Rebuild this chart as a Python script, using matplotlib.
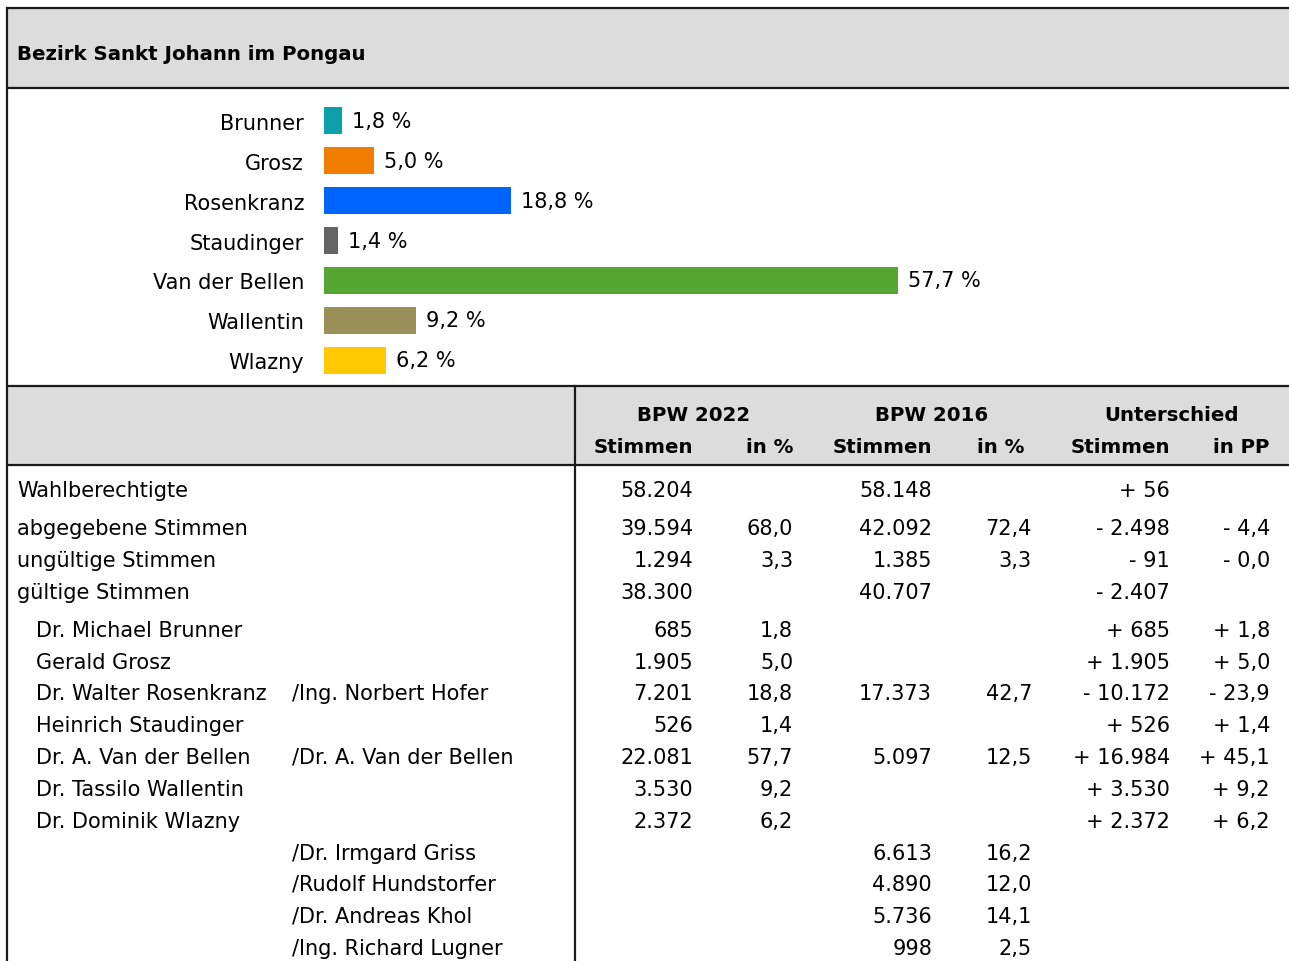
import matplotlib
matplotlib.use("Agg")
import matplotlib.pyplot as plt

plt.rcParams['font.family'] = ['DejaVu Sans']

W, H = 1289, 962

# bar chart data
bar_names = ["Brunner", "Grosz", "Rosenkranz", "Staudinger", "Van der Bellen", "Wallentin", "Wlazny"]
bar_values = [1.8, 5.0, 18.8, 1.4, 57.7, 9.2, 6.2]
bar_colors = ["#0f9fa8", "#f07d00", "#0064ff", "#646464", "#55a630", "#99905a", "#ffc800"]

# table data
row_labels = ["Wahlberechtigte", "abgegebene Stimmen", "ungültige Stimmen", "gültige Stimmen",
              "Dr. Michael Brunner", "Gerald Grosz", "Dr. Walter Rosenkranz", "Heinrich Staudinger",
              "Dr. A. Van der Bellen", "Dr. Tassilo Wallentin", "Dr. Dominik Wlazny",
              "", "", "", ""]
row_labels_2016 = ["", "", "", "", "", "", "/Ing. Norbert Hofer", "", "/Dr. A. Van der Bellen", "", "",
                   "/Dr. Irmgard Griss", "/Rudolf Hundstorfer", "/Dr. Andreas Khol", "/Ing. Richard Lugner"]
st_2022 = ["58.204", "39.594", "1.294", "38.300", "685", "1.905", "7.201", "526", "22.081", "3.530", "2.372",
           "", "", "", ""]
pct_2022 = ["", "68,0", "3,3", "", "1,8", "5,0", "18,8", "1,4", "57,7", "9,2", "6,2", "", "", "", ""]
st_2016 = ["58.148", "42.092", "1.385", "40.707", "", "", "17.373", "", "5.097", "", "",
           "6.613", "4.890", "5.736", "998"]
pct_2016 = ["", "72,4", "3,3", "", "", "", "42,7", "", "12,5", "", "", "16,2", "12,0", "14,1", "2,5"]
diff_st = ["+ 56", "- 2.498", "- 91", "- 2.407", "+ 685", "+ 1.905", "- 10.172", "+ 526", "+ 16.984",
           "+ 3.530", "+ 2.372", "", "", "", ""]
diff_pp = ["", "- 4,4", "- 0,0", "", "+ 1,8", "+ 5,0", "- 23,9", "+ 1,4", "+ 45,1", "+ 9,2", "+ 6,2",
           "", "", "", ""]

row_y = [491, 529, 561, 593, 631, 663, 694, 726, 758, 790, 822, 854, 885, 917, 949]

fig = plt.figure(figsize=(W / 100, H / 100), dpi=100)
ax = fig.add_axes([0, 0, 1, 1])
ax.set_xlim(0, W)
ax.set_ylim(H, 0)
ax.axis("off")

FS = 15
FSB = 14.2
GRAY = "#dcdcdc"

# header bands
ax.fill_between([7, W], 9, 89, color=GRAY, lw=0)
ax.fill_between([7, W], 387, 466, color=GRAY, lw=0)
for y in (9, 89, 387, 466):
    ax.plot([7, W], [y, y], color="#1a1a1a", lw=1.6, solid_capstyle="butt")
ax.plot([7, 7], [9, H], color="#1a1a1a", lw=1.6)
ax.plot([575, 575], [387, H], color="#1a1a1a", lw=1.6)

ax.text(17, 54, "Bezirk Sankt Johann im Pongau", fontsize=FSB, fontweight="bold", va="center", ha="left")

# table header
for cx, t in [(694, "BPW 2022"), (932, "BPW 2016"), (1171, "Unterschied")]:
    ax.text(cx, 416, t, fontsize=FSB, fontweight="bold", ha="center", va="center")
for rx, t in [(693, "Stimmen"), (793, "in %"), (932, "Stimmen"), (1024, "in %"), (1170, "Stimmen"),
              (1269, "in PP")]:
    ax.text(rx, 448, t, fontsize=FSB, fontweight="bold", ha="right", va="center")

# table body
for i, y in enumerate(row_y):
    lx = 17 if i < 4 else 36
    if row_labels[i]:
        ax.text(lx, y, row_labels[i], fontsize=FS, ha="left", va="center")
    if row_labels_2016[i]:
        ax.text(292, y, row_labels_2016[i], fontsize=FS, ha="left", va="center")
    for rx, col in [(693, st_2022), (793, pct_2022), (932, st_2016), (1032, pct_2016),
                    (1170, diff_st), (1270, diff_pp)]:
        if col[i]:
            ax.text(rx, y, col[i], fontsize=FS, ha="right", va="center")

# bar chart
bx0, bx1 = 324, 324 + 597
by0, by1 = 102, 381
bax = fig.add_axes([bx0 / W, 1 - by1 / H, (bx1 - bx0) / W, (by1 - by0) / H])
pos = list(range(len(bar_names)))
bax.barh(pos, bar_values, height=0.68, color=bar_colors)
bax.set_xlim(0, 60)
bax.set_ylim(len(bar_names) - 0.5, -0.5)
bax.set_yticks(pos)
bax.set_yticklabels(bar_names, fontsize=FS)
bax.tick_params(axis="y", length=0, pad=14.4)
bax.set_xticks([])
for s in bax.spines.values():
    s.set_visible(False)
bax.patch.set_alpha(0)
for p, v in zip(pos, bar_values):
    bax.annotate(f"{v:.1f} %".replace(".", ","), (v, p), xytext=(7.2, 0), textcoords="offset points",
                 fontsize=FS, va="center", ha="left")

fig.savefig("out.png", dpi=100)
